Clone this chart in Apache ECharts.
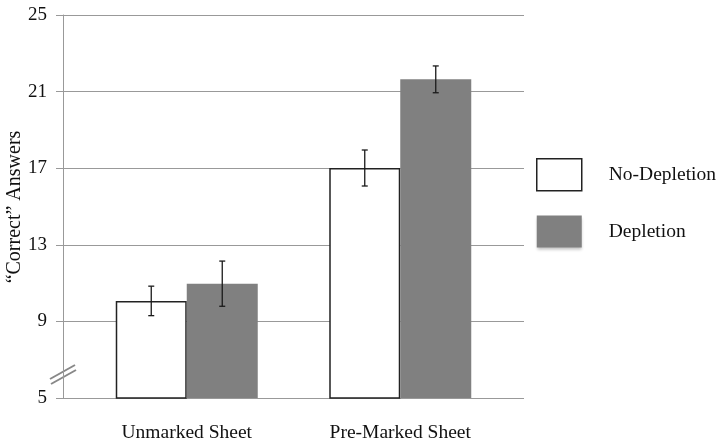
<!DOCTYPE html>
<html><head><meta charset="utf-8">
<script src="https://cdn.jsdelivr.net/npm/echarts@6/dist/echarts.min.js"></script>
<style>html,body{margin:0;padding:0;background:#fff}#c{width:719px;height:448px}</style>
</head><body><div id="c"></div>
<script>
const categories = ['Unmarked Sheet', 'Pre-Marked Sheet'];
const seriesNames = ['No-Depletion', 'Depletion'];
const noDepletion = [10.07, 17.01];
const noDepletionErr = [0.77, 0.94];
const depletion = [10.97, 21.64];
const depletionErr = [1.18, 0.70];
const yTicks = [5, 9, 13, 17, 21, 25];
const yTitle = '\u201cCorrect\u201d Answers';

const FONT = '"Liberation Serif", "Times New Roman", serif';
const BAR_W = 71;

function errData(means, errs) {
  return means.map((m, i) => [i, m, m - errs[i], m + errs[i]]);
}
function errSeries(name, means, errs, offset) {
  return {
    type: 'custom', xAxisIndex: 1, yAxisIndex: 1, z: 10,
    name: name + ' err', silent: true,
    data: errData(means, errs),
    renderItem: function (params, api) {
      const hi = api.coord([api.value(0), api.value(3)]);
      const lo = api.coord([api.value(0), api.value(2)]);
      const x = hi[0] + offset;
      const cw = 3;
      const st = { stroke: '#1a1a1a', lineWidth: 1.3 };
      return { type: 'group', children: [
        { type: 'line', shape: { x1: x, y1: hi[1], x2: x, y2: lo[1] }, style: st },
        { type: 'line', shape: { x1: x - cw, y1: hi[1], x2: x + cw, y2: hi[1] }, style: st },
        { type: 'line', shape: { x1: x - cw, y1: lo[1], x2: x + cw, y2: lo[1] }, style: st }
      ]};
    }
  };
}

const chart = echarts.init(document.getElementById('c'));
chart.setOption({
  animation: false,
  backgroundColor: '#fff',
  textStyle: { fontFamily: FONT },
  grid: [
    { left: 63, right: 195, top: 15, bottom: 50, containLabel: false, outerBoundsMode: 'none' },
    { left: 80, right: 212, top: 15, bottom: 50, containLabel: false, outerBoundsMode: 'none' }
  ],
  legend: {
    orient: 'vertical', left: 536, top: 158, padding: 0,
    itemWidth: 45, itemHeight: 32, itemGap: 24,
    textStyle: { fontFamily: FONT, fontSize: 19.5, color: '#111', padding: [0, 0, 0, 22] },
    data: [
      { name: seriesNames[0], icon: 'rect', itemStyle: { color: '#fff', borderColor: '#222', borderWidth: 1.5 } },
      { name: seriesNames[1], icon: 'rect', itemStyle: { color: '#808080', shadowColor: 'rgba(0,0,0,0.25)', shadowBlur: 3, shadowOffsetY: 2 } }
    ]
  },
  xAxis: [
    { type: 'category', gridIndex: 0, data: categories, show: false },
    { type: 'category', gridIndex: 1, data: categories,
      axisLine: { show: false }, axisTick: { show: false },
      axisLabel: { fontFamily: FONT, fontSize: 19.5, color: '#111', margin: 25 } }
  ],
  yAxis: [
    { type: 'value', gridIndex: 0, min: 5, max: 25, interval: 4,
      axisLine: { show: true, lineStyle: { color: '#999', width: 1 } },
      axisTick: { show: true, length: 7, lineStyle: { color: '#999' } },
      axisLabel: { fontFamily: FONT, fontSize: 19, color: '#111', margin: 16,
        formatter: v => yTicks.includes(v) ? String(v) : '' },
      splitLine: { show: true, lineStyle: { color: '#999', width: 1 } } },
    { type: 'value', gridIndex: 1, min: 5, max: 25, interval: 4, show: false,
      splitLine: { show: false } }
  ],
  graphic: [
    { type: 'text', x: 15, y: 207, rotation: Math.PI / 2,
      style: { text: yTitle, font: '20px ' + FONT, fill: '#111', align: 'center', verticalAlign: 'middle' } },
    { type: 'line', shape: { x1: 50, y1: 379, x2: 75, y2: 365 }, style: { stroke: '#888', lineWidth: 2 } },
    { type: 'line', shape: { x1: 51, y1: 384, x2: 76, y2: 370 }, style: { stroke: '#888', lineWidth: 2 } }
  ],
  series: [
    { name: seriesNames[0], type: 'bar', xAxisIndex: 1, yAxisIndex: 1, data: noDepletion,
      barWidth: BAR_W, barGap: '0%',
      itemStyle: { color: '#fff', borderColor: '#222', borderWidth: 1.5 } },
    { name: seriesNames[1], type: 'bar', xAxisIndex: 1, yAxisIndex: 1, data: depletion,
      barWidth: BAR_W, barGap: '0%',
      itemStyle: { color: '#808080' } },
    errSeries(seriesNames[0], noDepletion, noDepletionErr, -BAR_W / 2),
    errSeries(seriesNames[1], depletion, depletionErr, BAR_W / 2)
  ]
});
</script></body></html>
